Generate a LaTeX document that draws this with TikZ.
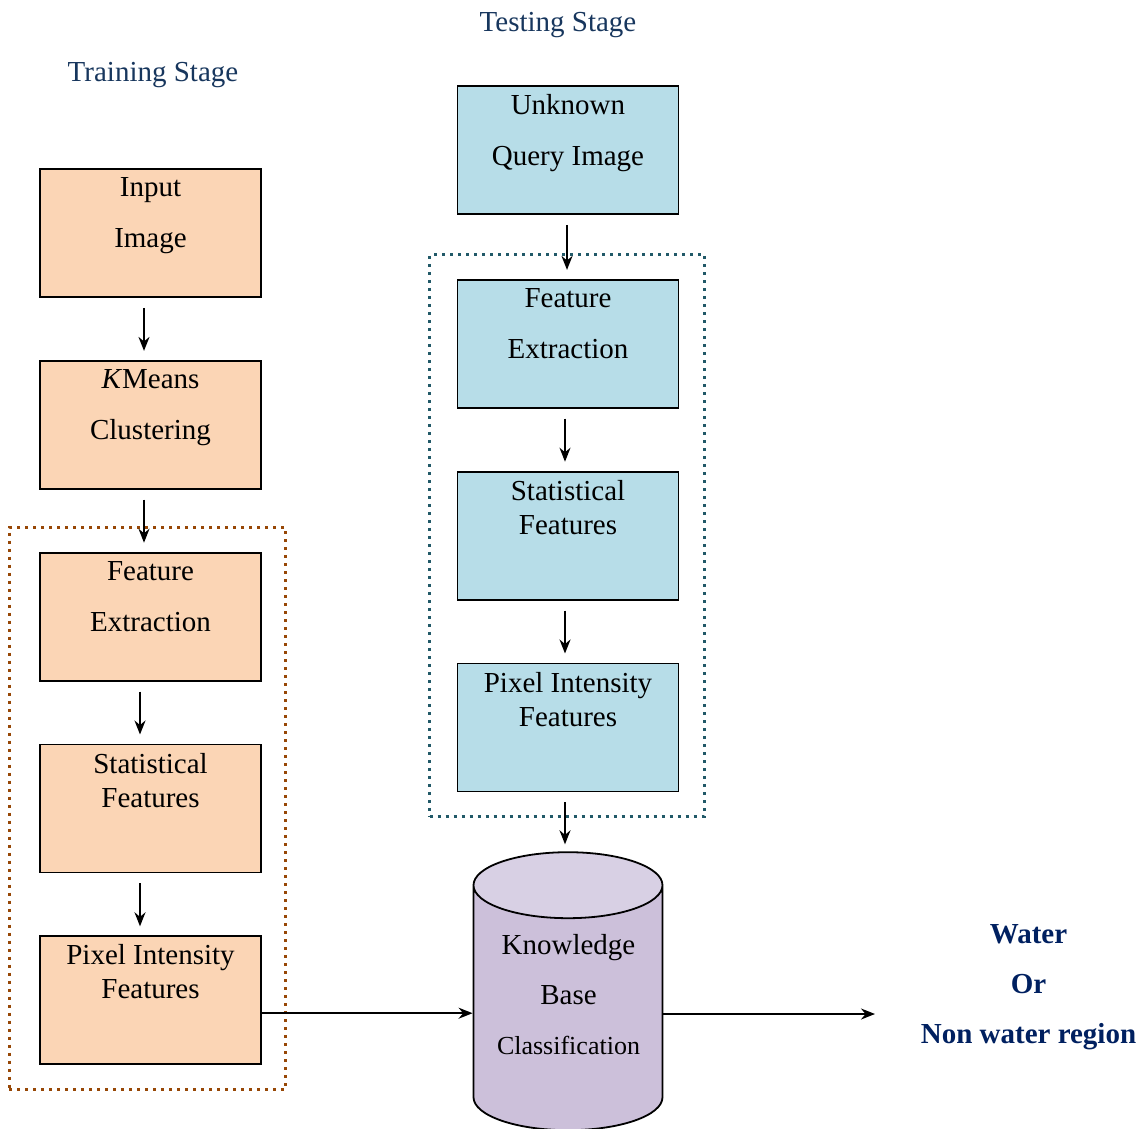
\documentclass[tikz,border=0pt]{standalone}
\usepackage{fontspec}
\setmainfont{Liberation Serif}
\usetikzlibrary{positioning,fit,arrows.meta,shapes.geometric}
\definecolor{peach}{RGB}{251,213,181}
\definecolor{paleblue}{RGB}{183,221,232}
\definecolor{lilac}{RGB}{204,192,218}
\definecolor{lilactop}{RGB}{216,208,228}
\definecolor{rust}{RGB}{151,71,6}
\definecolor{deepteal}{RGB}{33,89,104}
\definecolor{navy}{RGB}{23,54,93}
\definecolor{inkblue}{RGB}{0,32,96}
\tikzset{
	box/.style={draw, line width=0.9pt, minimum width=110.5pt, minimum height=64pt, inner sep=0pt},
	train/.style={box, fill=peach},
	test/.style={box, fill=paleblue},
	txt/.style={anchor=north, align=center, inner sep=0pt, font=\fontsize{14.5}{25.5}\selectfont},
	txts/.style={txt, font=\fontsize{14.5}{17}\selectfont},
	stage/.style={text=navy, inner sep=0pt, font=\fontsize{14.5}{17}\selectfont},
	link/.style={-{Stealth[length=7pt,width=5.5pt]}, line width=0.9pt},
	arr/.style={link, shorten <=5pt, shorten >=4.5pt},
	group/.style={draw, line width=1.5pt, dash pattern=on 1.5pt off 2.5pt}
}
\begin{document}
\begin{tikzpicture}[x=0.5pt,y=-0.5pt,node distance=31pt]
	\useasboundingbox (0,0) rectangle (1141,1129);

	\node[stage] (trs) at (153,75) {Training Stage};
	\node[stage] (tes) at (558,25) {Testing Stage};

	\node[train] (in) at (150.5,233) {};
	\node[train, below=of in] (km) {};
	\node[train, below=of km] (fe1) {};
	\node[train, below=of fe1] (st1) {};
	\node[train, below=of st1] (px1) {};

	\node[test] (unk) at (568,150) {};
	\node[test, below=32pt of unk] (fe2) {};
	\node[test, below=of fe2] (st2) {};
	\node[test, below=of st2] (px2) {};

	\node[txt] (in-t) at ([yshift=-4.5pt]in.north) {Input\\Image};
	\node[txt] (km-t) at ([yshift=-4.5pt]km.north) {\textit{K}Means\\Clustering};
	\node[txt] (fe1-t) at ([yshift=-4.5pt]fe1.north) {Feature\\Extraction};
	\node[txts] (st1-t) at ([yshift=-4.5pt]st1.north) {Statistical\\Features};
	\node[txts] (px1-t) at ([yshift=-4.5pt]px1.north) {Pixel Intensity\\Features};
	\node[txt] (unk-t) at ([yshift=-4.5pt]unk.north) {Unknown\\Query Image};
	\node[txt] (fe2-t) at ([yshift=-4.5pt]fe2.north) {Feature\\Extraction};
	\node[txts] (st2-t) at ([yshift=-4.5pt]st2.north) {Statistical\\Features};
	\node[txts] (px2-t) at ([yshift=-4.5pt]px2.north) {Pixel Intensity\\Features};

	\node[cylinder, shape border rotate=90, aspect=4.95, draw, line width=0.9pt,
		cylinder uses custom fill, cylinder body fill=lilac, cylinder end fill=lilactop,
		minimum width=94.5pt, minimum height=139pt, below=29.5pt of px2] (kb) {};
	\node[txt, font=\fontsize{14.5}{25}\selectfont] (kb-t) at (568.5,934)
		{Knowledge\\Base\\{\fontsize{13}{25}\selectfont Classification}};

	\node[txt, text=inkblue, font=\bfseries\fontsize{14.5}{25}\selectfont] (res) at (1028.5,924)
		{Water\\Or\\Non water region};
	\coordinate (out) at (875,1014);

	\node[group, draw=rust, fit=(fe1)(px1), inner xsep=13.5pt, inner ysep=12pt, xshift=-1.5pt] (trg) {};
	\node[group, draw=deepteal, fit=(fe2)(px2), inner xsep=13pt, inner ysep=12pt, xshift=-0.5pt] (teg) {};

	\draw[arr] ([xshift=-3.25pt]in.south) -- ([xshift=-3.25pt]km.north);
	\draw[arr] ([xshift=-3.25pt]km.south) -- ([xshift=-3.25pt]fe1.north);
	\draw[arr] ([xshift=-5.25pt]fe1.south) -- ([xshift=-5.25pt]st1.north);
	\draw[arr] ([xshift=-5.25pt]st1.south) -- ([xshift=-5.25pt]px1.north);
	\draw[arr] ([xshift=-0.5pt]unk.south) -- ([xshift=-0.5pt]fe2.north);
	\draw[arr] ([xshift=-1.5pt]fe2.south) -- ([xshift=-1.5pt]st2.north);
	\draw[arr] ([xshift=-1.5pt]st2.south) -- ([xshift=-1.5pt]px2.north);
	\draw[arr, shorten >=3.5pt] ([xshift=-1.5pt]px2.south) -- ([xshift=-1.5pt]px2.south |- kb.north);
	\draw[link] ([yshift=-6.5pt]px1.east) -- ([yshift=-6.5pt]px1.east -| kb.west);
	\draw[link] (kb.east |- out) -- (out);
\end{tikzpicture}
\end{document}
